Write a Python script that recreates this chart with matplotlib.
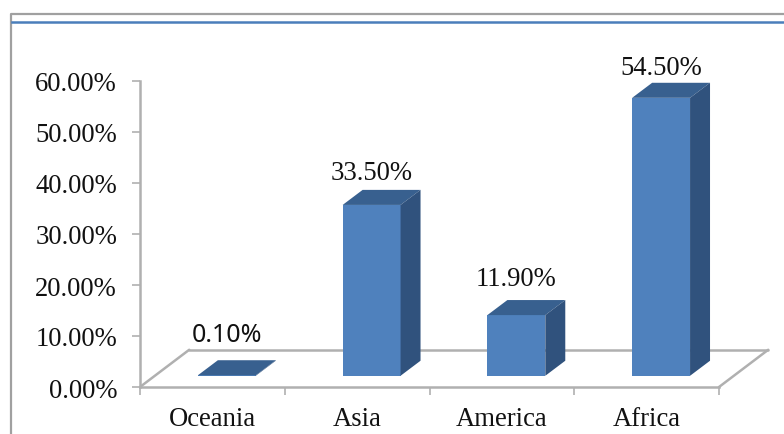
import matplotlib.pyplot as plt
from matplotlib.lines import Line2D
from matplotlib.patches import Polygon

categories = ["Oceania", "Asia", "America", "Africa"]
values = [0.10, 33.50, 11.90, 54.50]
y_ticks = [0, 10, 20, 30, 40, 50, 60]

FRONT = "#4f81bd"
TOP = "#38608f"
SIDE = "#30527d"
GRID = "#b0b0b0"

W, H = 784, 435
# 3d look, all in data units of the axes below
BAR_W = 0.40
BAR_OFF = 0.40
BASE = 2.2
DX = 0.138
DY = 2.95
FLOOR_DX = 0.34
FLOOR_DY = 7.3


def draw_bar(ax, i, value):
    x0 = i + BAR_OFF
    x1 = x0 + BAR_W
    y0 = BASE
    y1 = BASE + value
    ax.add_patch(Polygon([(x0, y0), (x1, y0), (x1, y1), (x0, y1)], color=FRONT, lw=0, zorder=3))
    ax.add_patch(Polygon([(x0, y1), (x1, y1), (x1 + DX, y1 + DY), (x0 + DX, y1 + DY)],
                         color=TOP, lw=0, zorder=3))
    ax.add_patch(Polygon([(x1, y0), (x1 + DX, y0 + DY), (x1 + DX, y1 + DY), (x1, y1)],
                         color=SIDE, lw=0, zorder=3))


def main():
    plt.rcParams["font.family"] = ["Liberation Serif", "DejaVu Serif"]
    fig = plt.figure(figsize=(W / 100, H / 100), dpi=100)

    # picture frame: grey top and left edge, blue rule inside
    fig.add_artist(Line2D([10.5 / W, 10.5 / W, 1], [0, 1 - 14.5 / H, 1 - 14.5 / H],
                          color="#a0a0a0", lw=1.6))
    fig.add_artist(Line2D([12 / W, 1], [1 - 23 / H, 1 - 23 / H], color="#4a7ebb", lw=1.8))

    ax = fig.add_axes([140 / W, 1 - 388 / H, 579 / W, 306 / H])
    ax.set_xlim(0, len(categories))
    ax.set_ylim(0, 60)
    ax.patch.set_visible(False)

    for name in ["top", "right"]:
        ax.spines[name].set_visible(False)
    for name in ["left", "bottom"]:
        ax.spines[name].set_color(GRID)
        ax.spines[name].set_linewidth(1.8)

    ax.set_yticks(y_ticks)
    ax.set_yticklabels([f"{v:.2f}%" for v in y_ticks], fontsize=19.2, color="#111111")
    ax.set_xticks(range(len(categories) + 1))
    ax.set_xticklabels([])
    ax.tick_params(axis="y", length=5.5, width=1.2, color=GRID, pad=11)
    ax.tick_params(axis="x", length=5.5, width=1.2, color=GRID)

    for i, name in enumerate(categories):
        ax.annotate(name, (i + 0.5, 0), xytext=(0, -14), textcoords="offset points",
                    ha="center", va="top", fontsize=19.2, color="#111111",
                    annotation_clip=False)

    # floor of the 3d box, behind the bars
    n = len(categories)
    floor_kw = dict(color=GRID, lw=1.8, clip_on=False, solid_capstyle="round", zorder=1)
    ax.plot([0, FLOOR_DX], [0, FLOOR_DY], **floor_kw)
    ax.plot([FLOOR_DX, n + FLOOR_DX], [FLOOR_DY, FLOOR_DY], **floor_kw)
    ax.plot([n, n + FLOOR_DX], [0, FLOOR_DY], **floor_kw)

    for i, value in enumerate(values):
        draw_bar(ax, i, value)

    # value labels, the first one is in a sans font in the original
    label_gap = [6.8, 5.1, 5.9, 4.6]
    for i, value in enumerate(values):
        x = i + BAR_OFF + BAR_W / 2
        y = BASE + value + label_gap[i]
        if i == 0:
            ax.text(x, y, f"{value:.2f}%", ha="center", va="baseline", fontsize=18,
                    family="Noto Sans", color="#111111", clip_on=False)
        else:
            ax.text(x, y, f"{value:.2f}%", ha="center", va="baseline", fontsize=19.2,
                    color="#111111", clip_on=False)

    plt.savefig("out.png", dpi=100)


if __name__ == "__main__":
    main()
